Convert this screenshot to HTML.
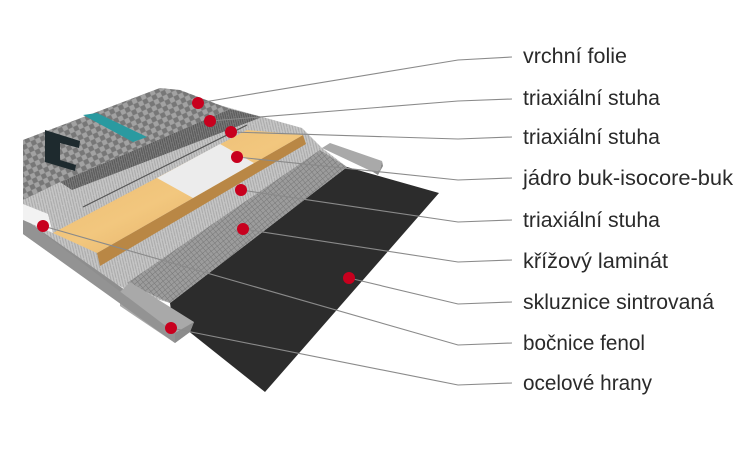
<!DOCTYPE html>
<html><head><meta charset="utf-8"><style>
html,body{margin:0;padding:0;background:#fff;width:755px;height:465px;overflow:hidden}
text{font-family:"Liberation Sans Narrow","Liberation Sans",sans-serif;font-size:21px;fill:#2a2a2a}
</style></head><body>
<svg width="755" height="465" viewBox="0 0 755 465" xmlns="http://www.w3.org/2000/svg">
<defs>
<pattern id="dia" width="7" height="7" patternUnits="userSpaceOnUse" patternTransform="rotate(20)">
<rect width="7" height="7" fill="#a2a2a2"/><path d="M3.5 0L7 3.5L3.5 7L0 3.5Z" fill="#777"/></pattern>
<pattern id="herr" width="6" height="6" patternUnits="userSpaceOnUse" patternTransform="rotate(-40)">
<rect width="6" height="6" fill="#c6c6c6"/><path d="M0 6L3 0M3 6L6 0" stroke="#a8a8a8" stroke-width="1"/></pattern>
<pattern id="mesh" width="4" height="4" patternUnits="userSpaceOnUse" patternTransform="rotate(-40)">
<rect width="4" height="4" fill="#9c9c9c"/><path d="M0 0H4M0 0V4" stroke="#777" stroke-width="1"/></pattern>
<pattern id="dark" width="5" height="5" patternUnits="userSpaceOnUse" patternTransform="rotate(-40)">
<rect width="5" height="5" fill="#7a7a7a"/><path d="M0 5L2.5 0M2.5 5L5 0" stroke="#555" stroke-width="1"/></pattern>
<linearGradient id="wood" x1="0" y1="0" x2="1" y2="1">
<stop offset="0" stop-color="#e9b76f"/><stop offset="0.5" stop-color="#f2c77e"/><stop offset="1" stop-color="#dca05a"/></linearGradient>
</defs>
<!-- black base -->
<polygon points="347,167 439,193 265,392 172,318 170,303" fill="#2c2c2c"/>
<!-- body -->
<polygon points="23,200 23,140 160,88 230,108 302,128 322,148 347,167 170,303 127,290 23,232" fill="url(#herr)"/>
<!-- front face -->
<polygon points="23,218 125,290 125,306 23,234" fill="#8e8e8e"/>
<!-- mesh -->
<polygon points="320,150 347,167 170,303 127,283" fill="url(#mesh)"/>
<!-- far lip -->
<polygon points="322,148 330,143 382,161 380,170 373,172" fill="#a9a9a9"/>
<polygon points="373,172 380,170 382,161 383,166 378,175" fill="#8a8a8a"/>
<!-- near lip -->
<polygon points="120,292 130,282 194,322 190,332 175,343 120,306" fill="#a9a9a9"/>
<polygon points="175,333 194,322 190,332 175,343" fill="#8c8c8c"/>
<polygon points="23,218 175,333 175,343 23,234" fill="#939393"/>
<!-- wood -->
<polygon points="303,135 306,144 100,266 97,253" fill="#b98745"/>
<polygon points="247,130 303,135 97,253 53,233" fill="url(#wood)"/>
<polygon points="220,144 254,163 193,198 157,178" fill="#ececec"/>
<!-- dark strip -->
<polygon points="230,109 262,117 72,190 60,182" fill="url(#dark)"/>
<!-- top sheet -->
<polygon points="23,140 160,88 180,90 230,109 60,182 23,200" fill="url(#dia)"/>
<polygon points="83,115 97,113 147,137 133,142" fill="#2a9aa0"/>
<path d="M45 130 L80 141 L79 148 L60 143 L60 160 L76 165 L75 171 L45 162 Z" fill="#1e2a2e"/>
<line x1="247" y1="125" x2="83" y2="207" stroke="#555" stroke-width="1.2"/>
<!-- sidewall -->
<polygon points="23,204 48,214 53,233 23,220" fill="#f2f2f2"/>
<!-- connectors -->
<g stroke="#8a8a8a" stroke-width="1.1" fill="none">
<polyline points="198,103 458,60 512,57"/>
<polyline points="210,121 458,101 512,99"/>
<polyline points="231,132 458,139 512,137"/>
<polyline points="237,157 458,180 512,178"/>
<polyline points="241,190 458,222 512,220"/>
<polyline points="243,229 458,262 512,260"/>
<polyline points="349,278 458,304 512,302"/>
<polyline points="43,226 458,345 512,343"/>
<polyline points="171,328 458,385 512,383"/>
</g>
<g fill="#c8001e">
<circle cx="198" cy="103" r="6"/><circle cx="210" cy="121" r="6"/><circle cx="231" cy="132" r="6"/>
<circle cx="237" cy="157" r="6"/><circle cx="241" cy="190" r="6"/><circle cx="243" cy="229" r="6"/>
<circle cx="349" cy="278" r="6"/><circle cx="43" cy="226" r="6"/><circle cx="171" cy="328" r="6"/>
</g>
<g>
<text x="523" y="63" textLength="104" lengthAdjust="spacingAndGlyphs">vrchní folie</text>
<text x="523" y="105" textLength="137" lengthAdjust="spacingAndGlyphs">triaxiální stuha</text>
<text x="523" y="144" textLength="137" lengthAdjust="spacingAndGlyphs">triaxiální stuha</text>
<text x="523" y="185" textLength="210" lengthAdjust="spacingAndGlyphs">jádro buk-isocore-buk</text>
<text x="523" y="227" textLength="137" lengthAdjust="spacingAndGlyphs">triaxiální stuha</text>
<text x="523" y="268" textLength="145" lengthAdjust="spacingAndGlyphs">křížový laminát</text>
<text x="523" y="309" textLength="191" lengthAdjust="spacingAndGlyphs">skluznice sintrovaná</text>
<text x="523" y="350" textLength="122" lengthAdjust="spacingAndGlyphs">bočnice fenol</text>
<text x="523" y="390" textLength="129" lengthAdjust="spacingAndGlyphs">ocelové hrany</text>
</g>
</svg>
</body></html>
